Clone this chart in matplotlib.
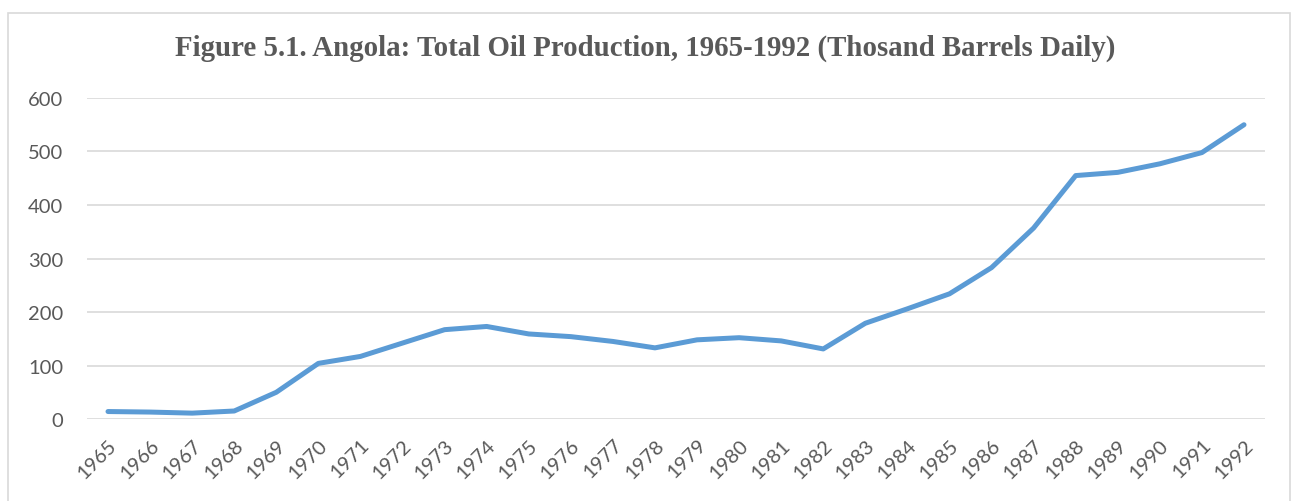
import matplotlib
matplotlib.use("Agg")
import matplotlib.pyplot as plt
from matplotlib.patches import Rectangle

years = [str(y) for y in range(1965, 1993)]
production = [14, 13, 11, 15, 50, 104, 117, 142, 167, 173, 159, 154, 145, 133,
              148, 152, 146, 131, 179, 206, 234, 283, 357, 455, 461, 477, 498, 550]
y_ticks = [0, 100, 200, 300, 400, 500, 600]

fig = plt.figure(figsize=(12.98, 5.02), dpi=100)
ax = fig.add_axes([0.067, 0.1633, 0.9076, 0.6395])

# outer frame like the Excel chart area
fig.patches.append(Rectangle((8 / 1298, -0.05), 1282 / 1298, 1 - 14 / 502 + 0.05,
                             transform=fig.transFigure, fill=False,
                             edgecolor="#D9D9D9", linewidth=1.2))

x = list(range(len(years)))
ax.plot(x, production, color="#5B9BD5", linewidth=3.6, solid_capstyle="round",
        solid_joinstyle="round", zorder=3)

ax.set_xlim(-0.5, len(years) - 0.5)
ax.set_ylim(0, 600)
ax.set_yticks(y_ticks)
ax.set_xticks(x)
ax.set_xticklabels(years, rotation=45, ha="right", rotation_mode="anchor")
ax.grid(axis="y", color="#D9D9D9", linewidth=1.2)
ax.set_axisbelow(True)
for s in ax.spines.values():
    s.set_visible(False)
ax.tick_params(length=0, labelcolor="#595959")
ax.tick_params(axis="y", pad=17, labelsize=14.5)
ax.tick_params(axis="x", pad=12, labelsize=14.5)
for lbl in ax.get_xticklabels() + ax.get_yticklabels():
    lbl.set_fontfamily("Lato")

fig.text(0.497, 0.904, "Figure 5.1. Angola: Total Oil Production, 1965-1992 (Thosand Barrels Daily)",
         ha="center", va="center", fontsize=20.8, fontweight="bold",
         family="Liberation Serif", color="#595959")

fig.savefig("out.png", dpi=100)
